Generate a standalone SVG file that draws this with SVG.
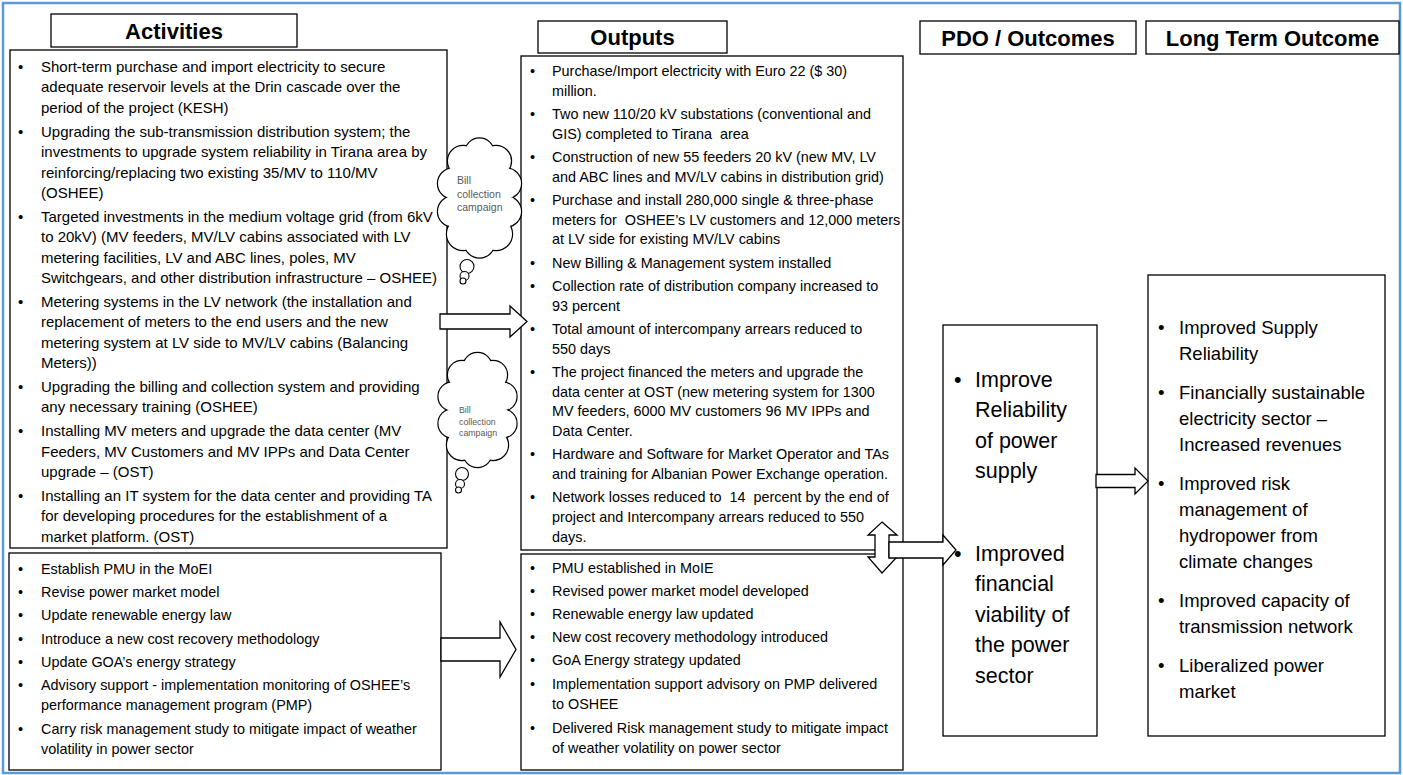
<svg xmlns="http://www.w3.org/2000/svg" width="1403" height="775" viewBox="0 0 1403 775">
<defs>
<style>
.frame{fill:#fff;stroke:#5B9BD5;stroke-width:2.5}
.box{fill:#fff;stroke:#000;stroke-width:1.3}
.hdr{font-family:"Liberation Sans",Arial,sans-serif;font-weight:bold;font-size:22px;text-anchor:middle;fill:#000}
.a{font-family:"Liberation Sans",Arial,sans-serif;font-size:15px;fill:#000;white-space:pre}
.b{font-family:"Liberation Sans",Arial,sans-serif;font-size:14.4px;fill:#000;white-space:pre}
.p{font-family:"Liberation Sans",Arial,sans-serif;font-size:21.5px;fill:#000}
.l{font-family:"Liberation Sans",Arial,sans-serif;font-size:18.5px;fill:#000}
.cs{fill:#fff;stroke:#000;stroke-width:2.4}
.cf{fill:#fff;stroke:none}
.bub{fill:#fff;stroke:#000;stroke-width:1.1}
.ct1{font-family:"Liberation Sans",Arial,sans-serif;font-size:10.5px;fill:#595959}
.ct2{font-family:"Liberation Sans",Arial,sans-serif;font-size:8.8px;fill:#595959}
.arr{fill:#fff;stroke:#000;stroke-width:1.3;stroke-linejoin:miter}
</style>
</defs>
<rect class="frame" x="3" y="3" width="1397" height="770"/>

<g id="hdr-activities">
<rect class="box" x="51" y="14" width="246" height="33"/>
<text class="hdr" x="174" y="39">Activities</text>
</g>
<g id="hdr-outputs">
<rect class="box" x="538" y="21" width="189" height="32"/>
<text class="hdr" x="632.5" y="45">Outputs</text>
</g>
<g id="hdr-pdo">
<rect class="box" x="920" y="21" width="216" height="33"/>
<text class="hdr" x="1028" y="45.5">PDO / Outcomes</text>
</g>
<g id="hdr-lto">
<rect class="box" x="1146" y="21" width="253" height="33"/>
<text class="hdr" x="1272.5" y="45.5">Long Term Outcome</text>
</g>

<g id="activities-1">
<rect class="box" x="10" y="50" width="437" height="498"/>
<text class="a" x="18" y="72">•</text><text class="a" x="41" y="72">Short-term purchase and import electricity to secure</text>
<text class="a" x="41" y="92">adequate reservoir levels at the Drin cascade over the</text>
<text class="a" x="41" y="113">period of the project (KESH)</text>
<text class="a" x="18" y="137">•</text><text class="a" x="41" y="137">Upgrading the sub-transmission distribution system; the</text>
<text class="a" x="41" y="157">investments to upgrade system reliability in Tirana area by</text>
<text class="a" x="41" y="178">reinforcing/replacing two existing 35/MV to 110/MV</text>
<text class="a" x="41" y="198">(OSHEE)</text>
<text class="a" x="18" y="222">•</text><text class="a" x="41" y="222">Targeted investments in the medium voltage grid (from 6kV</text>
<text class="a" x="41" y="242">to 20kV) (MV feeders, MV/LV cabins associated with LV</text>
<text class="a" x="41" y="263">metering facilities, LV and ABC lines, poles, MV</text>
<text class="a" x="41" y="283">Switchgears, and other distribution infrastructure – OSHEE)</text>
<text class="a" x="18" y="307">•</text><text class="a" x="41" y="307">Metering systems in the LV network (the installation and</text>
<text class="a" x="41" y="327">replacement of meters to the end users and the new</text>
<text class="a" x="41" y="348">metering system at LV side to MV/LV cabins (Balancing</text>
<text class="a" x="41" y="368">Meters))</text>
<text class="a" x="18" y="392">•</text><text class="a" x="41" y="392">Upgrading the billing and collection system and providing</text>
<text class="a" x="41" y="412">any necessary training (OSHEE)</text>
<text class="a" x="18" y="436">•</text><text class="a" x="41" y="436">Installing MV meters and upgrade the data center (MV</text>
<text class="a" x="41" y="457">Feeders, MV Customers and MV IPPs and Data Center</text>
<text class="a" x="41" y="477">upgrade – (OST)</text>
<text class="a" x="18" y="501">•</text><text class="a" x="41" y="501">Installing an IT system for the data center and providing TA</text>
<text class="a" x="41" y="521">for developing procedures for the establishment of a</text>
<text class="a" x="41" y="542">market platform. (OST)</text>
</g>

<g id="activities-2">
<rect class="box" x="9" y="553" width="432" height="217"/>
<text class="b" x="18" y="574">•</text><text class="b" x="41" y="574">Establish PMU in the MoEI</text>
<text class="b" x="18" y="597">•</text><text class="b" x="41" y="597">Revise power market model</text>
<text class="b" x="18" y="620">•</text><text class="b" x="41" y="620">Update renewable energy law</text>
<text class="b" x="18" y="644">•</text><text class="b" x="41" y="644">Introduce a new cost recovery methodology</text>
<text class="b" x="18" y="667">•</text><text class="b" x="41" y="667">Update GOA’s energy strategy</text>
<text class="b" x="18" y="690">•</text><text class="b" x="41" y="690">Advisory support - implementation monitoring of OSHEE’s</text>
<text class="b" x="41" y="710">performance management program (PMP)</text>
<text class="b" x="18" y="734">•</text><text class="b" x="41" y="734">Carry risk management study to mitigate impact of weather</text>
<text class="b" x="41" y="754">volatility in power sector</text>
</g>

<g id="outputs-1">
<rect class="box" x="521" y="56" width="382" height="494"/>
<text class="b" x="530" y="76">•</text><text class="b" x="552" y="76">Purchase/Import electricity with Euro 22 ($ 30)</text>
<text class="b" x="552" y="96">million.</text>
<text class="b" x="530" y="119">•</text><text class="b" x="552" y="119">Two new 110/20 kV substations (conventional and</text>
<text class="b" x="552" y="139">GIS) completed to Tirana  area</text>
<text class="b" x="530" y="162">•</text><text class="b" x="552" y="162">Construction of new 55 feeders 20 kV (new MV, LV</text>
<text class="b" x="552" y="182">and ABC lines and MV/LV cabins in distribution grid)</text>
<text class="b" x="530" y="205">•</text><text class="b" x="552" y="205">Purchase and install 280,000 single &amp; three-phase</text>
<text class="b" x="552" y="225">meters for  OSHEE’s LV customers and 12,000 meters</text>
<text class="b" x="552" y="244">at LV side for existing MV/LV cabins</text>
<text class="b" x="530" y="268">•</text><text class="b" x="552" y="268">New Billing &amp; Management system installed</text>
<text class="b" x="530" y="291">•</text><text class="b" x="552" y="291">Collection rate of distribution company increased to</text>
<text class="b" x="552" y="311">93 percent</text>
<text class="b" x="530" y="334">•</text><text class="b" x="552" y="334">Total amount of intercompany arrears reduced to</text>
<text class="b" x="552" y="354">550 days</text>
<text class="b" x="530" y="377">•</text><text class="b" x="552" y="377">The project financed the meters and upgrade the</text>
<text class="b" x="552" y="397">data center at OST (new metering system for 1300</text>
<text class="b" x="552" y="416">MV feeders, 6000 MV customers 96 MV IPPs and</text>
<text class="b" x="552" y="436">Data Center.</text>
<text class="b" x="530" y="459">•</text><text class="b" x="552" y="459">Hardware and Software for Market Operator and TAs</text>
<text class="b" x="552" y="479">and training for Albanian Power Exchange operation.</text>
<text class="b" x="530" y="502">•</text><text class="b" x="552" y="502">Network losses reduced to  14  percent by the end of</text>
<text class="b" x="552" y="522">project and Intercompany arrears reduced to 550</text>
<text class="b" x="552" y="542">days.</text>
</g>

<g id="outputs-2">
<rect class="box" x="521" y="554" width="382" height="216"/>
<text class="b" x="530" y="573">•</text><text class="b" x="552" y="573">PMU established in MoIE</text>
<text class="b" x="530" y="596">•</text><text class="b" x="552" y="596">Revised power market model developed</text>
<text class="b" x="530" y="619">•</text><text class="b" x="552" y="619">Renewable energy law updated</text>
<text class="b" x="530" y="642">•</text><text class="b" x="552" y="642">New cost recovery methodology introduced</text>
<text class="b" x="530" y="665">•</text><text class="b" x="552" y="665">GoA Energy strategy updated</text>
<text class="b" x="530" y="689">•</text><text class="b" x="552" y="689">Implementation support advisory on PMP delivered</text>
<text class="b" x="552" y="709">to OSHEE</text>
<text class="b" x="530" y="733">•</text><text class="b" x="552" y="733">Delivered Risk management study to mitigate impact</text>
<text class="b" x="552" y="753">of weather volatility on power sector</text>
</g>

<g id="pdo">
<rect class="box" x="943" y="325" width="154" height="411"/>
<text class="p" x="954" y="387">•</text><text class="p" x="975" y="387">Improve</text>
<text class="p" x="975" y="417">Reliability</text>
<text class="p" x="975" y="448">of power</text>
<text class="p" x="975" y="478">supply</text>
<text class="p" x="954" y="561">•</text><text class="p" x="975" y="561">Improved</text>
<text class="p" x="975" y="591">financial</text>
<text class="p" x="975" y="622">viability of</text>
<text class="p" x="975" y="652">the power</text>
<text class="p" x="975" y="683">sector</text>
</g>

<g id="lto">
<rect class="box" x="1148" y="275" width="237" height="461"/>
<text class="l" x="1158" y="334">•</text><text class="l" x="1179" y="334">Improved Supply</text>
<text class="l" x="1179" y="360">Reliability</text>
<text class="l" x="1158" y="399">•</text><text class="l" x="1179" y="399">Financially sustainable</text>
<text class="l" x="1179" y="425">electricity sector –</text>
<text class="l" x="1179" y="451">Increased revenues</text>
<text class="l" x="1158" y="490">•</text><text class="l" x="1179" y="490">Improved risk</text>
<text class="l" x="1179" y="516">management of</text>
<text class="l" x="1179" y="542">hydropower from</text>
<text class="l" x="1179" y="568">climate changes</text>
<text class="l" x="1158" y="607">•</text><text class="l" x="1179" y="607">Improved capacity of</text>
<text class="l" x="1179" y="633">transmission network</text>
<text class="l" x="1158" y="672">•</text><text class="l" x="1179" y="672">Liberalized power</text>
<text class="l" x="1179" y="698">market</text>
</g>

<g id="cloud1">
<circle class="cs" cx="479.5" cy="152.5" r="14"/>
<circle class="cs" cx="496" cy="161" r="15"/>
<circle class="cs" cx="506" cy="183.5" r="15"/>
<circle class="cs" cx="506" cy="211.5" r="15"/>
<circle class="cs" cx="496" cy="234" r="16"/>
<circle class="cs" cx="479.5" cy="242.5" r="15"/>
<circle class="cs" cx="463" cy="234" r="16"/>
<circle class="cs" cx="453" cy="211.5" r="15"/>
<circle class="cs" cx="453" cy="183.5" r="15"/>
<circle class="cs" cx="463" cy="161" r="15"/>
<circle class="cf" cx="479.5" cy="152.5" r="14"/>
<circle class="cf" cx="496" cy="161" r="15"/>
<circle class="cf" cx="506" cy="183.5" r="15"/>
<circle class="cf" cx="506" cy="211.5" r="15"/>
<circle class="cf" cx="496" cy="234" r="16"/>
<circle class="cf" cx="479.5" cy="242.5" r="15"/>
<circle class="cf" cx="463" cy="234" r="16"/>
<circle class="cf" cx="453" cy="211.5" r="15"/>
<circle class="cf" cx="453" cy="183.5" r="15"/>
<circle class="cf" cx="463" cy="161" r="15"/>
<ellipse class="cf" cx="479.5" cy="197.5" rx="28" ry="44"/>
<circle class="bub" cx="467" cy="266.5" r="7"/>
<circle class="bub" cx="464.5" cy="276" r="4.5"/>
<circle class="bub" cx="463" cy="281" r="3"/>
<text class="ct1" x="457" y="184">Bill</text>
<text class="ct1" x="457" y="197.5">collection</text>
<text class="ct1" x="457" y="211">campaign</text>
</g>

<g id="cloud2">
<circle class="cs" cx="477.5" cy="367" r="14"/>
<circle class="cs" cx="493" cy="375" r="14"/>
<circle class="cs" cx="502.5" cy="396.5" r="14"/>
<circle class="cs" cx="502.5" cy="423.5" r="14"/>
<circle class="cs" cx="493" cy="445" r="15"/>
<circle class="cs" cx="477.5" cy="453" r="14"/>
<circle class="cs" cx="462" cy="445" r="15"/>
<circle class="cs" cx="452.5" cy="423.5" r="14"/>
<circle class="cs" cx="452.5" cy="396.5" r="14"/>
<circle class="cs" cx="462" cy="375" r="14"/>
<circle class="cf" cx="477.5" cy="367" r="14"/>
<circle class="cf" cx="493" cy="375" r="14"/>
<circle class="cf" cx="502.5" cy="396.5" r="14"/>
<circle class="cf" cx="502.5" cy="423.5" r="14"/>
<circle class="cf" cx="493" cy="445" r="15"/>
<circle class="cf" cx="477.5" cy="453" r="14"/>
<circle class="cf" cx="462" cy="445" r="15"/>
<circle class="cf" cx="452.5" cy="423.5" r="14"/>
<circle class="cf" cx="452.5" cy="396.5" r="14"/>
<circle class="cf" cx="462" cy="375" r="14"/>
<ellipse class="cf" cx="477.5" cy="410" rx="26" ry="42"/>
<circle class="bub" cx="462" cy="474" r="6.5"/>
<circle class="bub" cx="460" cy="484" r="4.5"/>
<circle class="bub" cx="458.5" cy="490" r="3"/>
<text class="ct2" x="459" y="413">Bill</text>
<text class="ct2" x="459" y="424.5">collection</text>
<text class="ct2" x="459" y="436">campaign</text>
</g>

<g id="connectors">
<polygon class="arr" points="440,314 510,314 510,306 527,321.5 510,337 510,329 440,329"/>
<polygon class="arr" points="441,638 500,638 500,622 516,649.5 500,677 500,661 441,661"/>
<polygon class="arr" points="882,522 897,535 889,535 889,557 897,557 882,573 868,557 875,557 875,535 868,535"/>
<polygon class="arr" points="889,542 943,542 943,535 956,550 943,565 943,558 889,558"/>
<polygon class="arr" points="1096,474.5 1135,474.5 1135,468 1148,481 1135,494 1135,487.5 1096,487.5"/>
</g>
</svg>
